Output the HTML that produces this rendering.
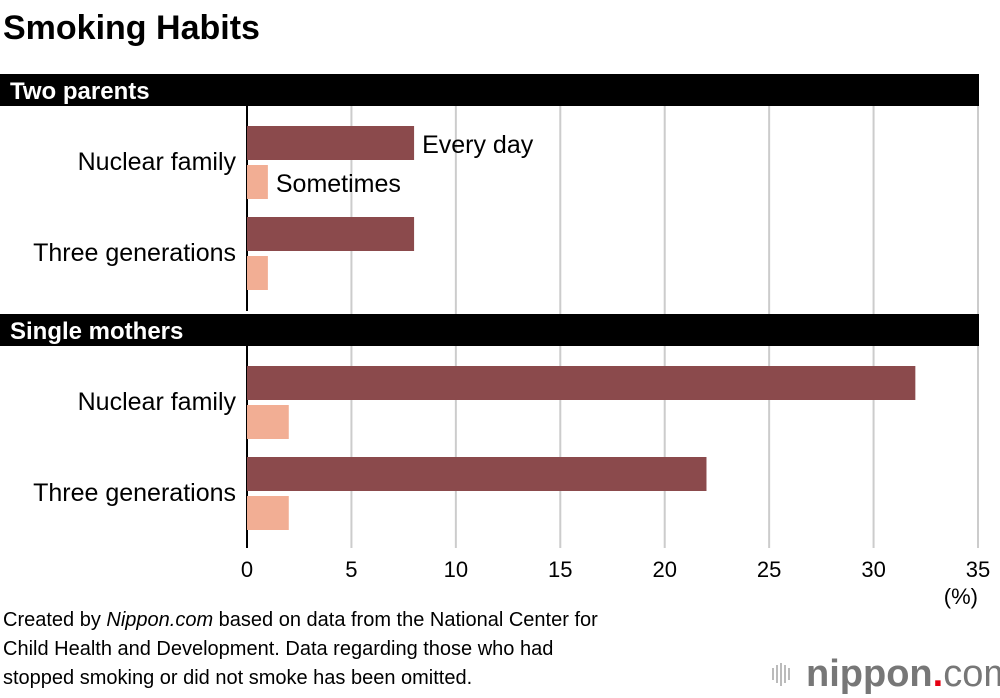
<!DOCTYPE html>
<html><head><meta charset="utf-8"><style>
body{margin:0;background:#fff;font-family:"Liberation Sans",sans-serif;}
#c{position:relative;width:1000px;height:698px;overflow:hidden}
</style></head><body>
<div id="c">
<svg id="s" width="1000" height="698" xmlns="http://www.w3.org/2000/svg" font-family="Liberation Sans, sans-serif">
<text x="3" y="39" font-size="34" font-weight="bold">Smoking Habits</text>
<g id="grid"></g>
<g id="bars"></g>
<g id="ticks"></g>
<text x="978" y="604" font-size="22" text-anchor="end">(%)</text>
<text font-size="20"><tspan x="3" y="626">Created by <tspan font-style="italic">Nippon.com</tspan> based on data from the National Center for</tspan><tspan x="3" y="655">Child Health and Development. Data regarding those who had</tspan><tspan x="3" y="684">stopped smoking or did not smoke has been omitted.</tspan></text>
<g>
<g stroke="#bbb" stroke-width="2"><line x1="773" y1="668" x2="773" y2="680"/><line x1="777" y1="665" x2="777" y2="683"/><line x1="781" y1="663" x2="781" y2="686"/><line x1="785" y1="665" x2="785" y2="683"/><line x1="789" y1="668" x2="789" y2="680"/></g>
<text x="806" y="686" font-size="38" fill="#777" font-weight="bold">nippon<tspan fill="#e60012">.</tspan><tspan font-weight="normal">com</tspan></text>
</g>
</svg>
</div>
<script>
const groups=["Two parents","Single mothers"];
const categories=["Nuclear family","Three generations"];
const everyDay=[[8,8],[32,22]];
const sometimes=[[1,1],[2,2]];
const tickValues=[0,5,10,15,20,25,30,35];
const NS="http://www.w3.org/2000/svg";
const x0=247,x1=978,xmax=35;
const xs=v=>x0+(x1-x0)*v/xmax;
function el(t,a,p,txt){const e=document.createElementNS(NS,t);for(const k in a)e.setAttribute(k,a[k]);if(txt!==undefined)e.textContent=txt;document.getElementById(p).appendChild(e);return e;}
const grid=document.getElementById('grid');
tickValues.forEach(v=>{if(v===0)return;
const l=el('line',{x1:xs(v),x2:xs(v),y1:105,y2:548,stroke:'#ccc','stroke-width':2},'grid');

const t=el('text',{x:xs(v),y:577,'font-size':22,'text-anchor':'middle'},'ticks',String(v));
});
{const t=el('text',{x:xs(0),y:577,'font-size':22,'text-anchor':'middle'},'ticks','0');
}
const gTop=[74,314];
groups.forEach((g,gi)=>{
const top=gTop[gi];
const h=el('rect',{x:0,y:top,width:979,height:32,fill:'#000'},'bars');

const ht=el('text',{x:10,y:top+25,'font-size':24,'font-weight':'bold',fill:'#fff'},'bars',g);

const ax=el('line',{x1:x0,x2:x0,y1:top+32,y2:gi==0?311:548,stroke:'#000','stroke-width':2},'bars');

categories.forEach((c,ci)=>{
const y=top+52+ci*91;
const b1=el('rect',{x:x0,y:y,width:xs(everyDay[gi][ci])-x0,height:34,fill:'#8b4a4c'},'bars');

const b2=el('rect',{x:x0,y:y+39,width:xs(sometimes[gi][ci])-x0,height:34,fill:'#f2ae94'},'bars');

const cl=el('text',{x:236,y:y+44,'font-size':25,'text-anchor':'end'},'bars',c);

if(gi==0&&ci==0){
const l1=el('text',{x:xs(everyDay[0][0])+8,y:y+27,'font-size':25},'bars','Every day');

const l2=el('text',{x:xs(sometimes[0][0])+8,y:y+66,'font-size':25},'bars','Sometimes');
}
});});
</script>
</body></html>
